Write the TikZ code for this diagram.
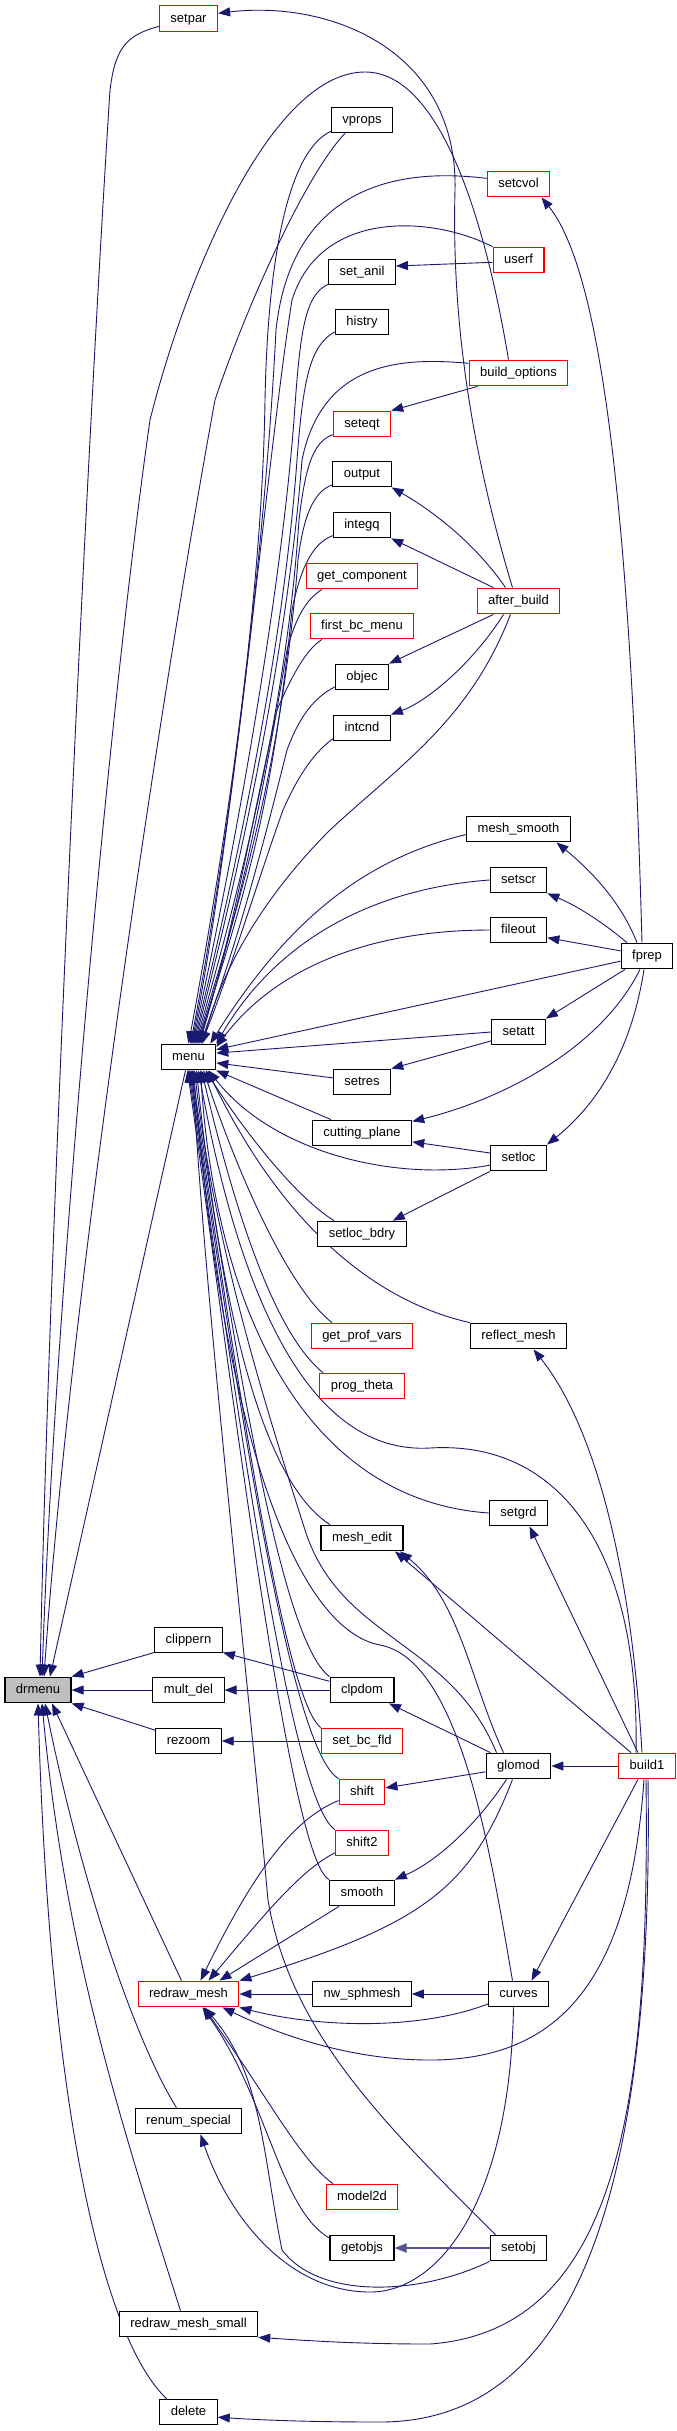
\documentclass[tikz,border=0pt]{standalone}
\usepackage{fontspec}
\usepackage{tikz}
\usetikzlibrary{arrows.meta,backgrounds,calc}
\newfontfamily\dgfont{Liberation Sans}
\definecolor{midnight}{HTML}{191970}
\definecolor{rootgrey}{HTML}{BFBFBF}
\tikzset{
  fn/.style={draw=black, fill=white, line width=1.1pt, inner xsep=11pt, inner ysep=0pt,
    minimum height=25.7pt, text height=9.6pt, text depth=2.6pt,
    font=\dgfont\fontsize{13}{15}\selectfont},
  fnred/.style={fn, draw=red},
  fnroot/.style={fn, fill=rootgrey},
  call/.style={draw=midnight, line width=0.9pt, -{Triangle[length=12pt,width=9pt]}},
}

\begin{document}
\begin{tikzpicture}[x=1pt,y=-1pt]
    \useasboundingbox (0,0) rectangle (677,2431);

    % 函数节点
    \node[fnred] (setpar) at (188.5,18.5) {setpar};
    \node[fn] (vprops) at (362,120) {vprops};
    \node[fnred] (setcvol) at (518.5,184) {setcvol};
    \node[fnred] (userf) at (518.5,260) {userf};
    \node[fn] (setanil) at (362,272) {set\_anil};
    \node[fn] (histry) at (362,322) {histry};
    \node[fnred] (buildoptions) at (518.5,373) {build\_options};
    \node[fnred] (seteqt) at (362,424) {seteqt};
    \node[fn] (output) at (362,474) {output};
    \node[fn] (integq) at (362,525) {integq};
    \node[fnred] (getcomponent) at (362,576) {get\_component};
    \node[fnred] (afterbuild) at (518.5,601) {after\_build};
    \node[fnred] (firstbcmenu) at (362,626) {first\_bc\_menu};
    \node[fn] (objec) at (362,677) {objec};
    \node[fn] (intcnd) at (362,728) {intcnd};
    \node[fn] (meshsmooth) at (518.5,829) {mesh\_smooth};
    \node[fn] (setscr) at (518.5,880) {setscr};
    \node[fn] (fileout) at (518.5,930) {fileout};
    \node[fn] (fprep) at (647,956) {fprep};
    \node[fn] (setatt) at (518.5,1032) {setatt};
    \node[fn] (menu) at (188.5,1057) {menu};
    \node[fn] (setres) at (362,1082) {setres};
    \node[fn] (cuttingplane) at (362,1133) {cutting\_plane};
    \node[fn] (setloc) at (518.5,1158) {setloc};
    \node[fn] (setlocbdry) at (362,1234) {setloc\_bdry};
    \node[fnred] (getprofvars) at (362,1336) {get\_prof\_vars};
    \node[fn] (reflectmesh) at (518.5,1336) {reflect\_mesh};
    \node[fnred] (progtheta) at (362,1386) {prog\_theta};
    \node[fn] (setgrd) at (518.5,1513) {setgrd};
    \node[fn] (meshedit) at (362,1538) {mesh\_edit};
    \node[fn] (clippern) at (188.5,1640) {clippern};
    \node[fnroot] (drmenu) at (38,1690) {drmenu};
    \node[fn] (multdel) at (188.5,1690) {mult\_del};
    \node[fn] (clpdom) at (362,1690) {clpdom};
    \node[fn] (rezoom) at (188.5,1741) {rezoom};
    \node[fnred] (setbcfld) at (362,1741) {set\_bc\_fld};
    \node[fn] (glomod) at (518.5,1766) {glomod};
    \node[fnred] (build1) at (647,1766) {build1};
    \node[fnred] (shift) at (362,1792) {shift};
    \node[fnred] (shift2) at (362,1843) {shift2};
    \node[fn] (smooth) at (362,1893) {smooth};
    \node[fnred] (redrawmesh) at (188.5,1994) {redraw\_mesh};
    \node[fn] (nwsphmesh) at (362,1994) {nw\_sphmesh};
    \node[fn] (curves) at (518.5,1994) {curves};
    \node[fn] (renumspecial) at (188.5,2121) {renum\_special};
    \node[fnred] (model2d) at (362,2197) {model2d};
    \node[fn] (getobjs) at (362,2248) {getobjs};
    \node[fn] (setobj) at (518.5,2248) {setobj};
    \node[fn] (redrawsmall) at (188.5,2324) {redraw\_mesh\_small};
    \node[fn] (delete) at (188.5,2412) {delete};

    \begin{scope}[on background layer]
    \fill[white] (0,0) rectangle (677,2431);

    % 调用 drmenu
    \draw[call] (setpar.195) .. controls (125,35) and (115,50) .. (110,90) .. controls (90,400) and (50,1200) .. ([xshift=2pt]drmenu.north);
    \draw[call] ([xshift=-10pt]buildoptions.north) .. controls (492,260) and (450,72) .. (365,72) .. controls (270,72) and (185,280) .. (150,420) .. controls (110,700) and (55,1300) .. ([xshift=4pt]drmenu.north);
    \draw[call] ([xshift=-17pt]vprops.south) .. controls (305,175) and (245,310) .. (215,400) .. controls (160,700) and (70,1300) .. ([xshift=6pt]drmenu.north);
    \draw[call] ([xshift=-3pt]menu.south) -- ([xshift=12pt]drmenu.north);
    \draw[call] (clippern.200) -- (drmenu.north east);
    \draw[call] (multdel.west) -- (drmenu.east);
    \draw[call] (rezoom.162) -- (drmenu.south east);
    \draw[call] ([xshift=-7pt]redrawmesh.north) -- ([xshift=14pt]drmenu.south);
    \draw[call] ([xshift=-12pt]renumspecial.north) .. controls (140,2050) and (85,1900) .. ([xshift=7pt]drmenu.south);
    \draw[call] ([xshift=-8pt]redrawsmall.north) .. controls (120,2120) and (65,1950) .. ([xshift=4pt]drmenu.south);
    \draw[call] ([xshift=-22pt]delete.north) .. controls (105,2340) and (50,2120) .. (drmenu.south);

    % after_build
    \draw[call] ([xshift=-6pt]afterbuild.north) .. controls (465,430) and (452,300) .. (455,190) .. controls (458,50) and (330,0) .. (setpar.10);
    \draw[call] ([xshift=-13pt]afterbuild.north) .. controls (480,550) and (440,515) .. (output.south east);
    \draw[call] ([xshift=-25pt]afterbuild.north) -- (integq.south east);
    \draw[call] ([xshift=-25pt]afterbuild.south) -- (objec.north east);
    \draw[call] ([xshift=-15pt]afterbuild.south) .. controls (475,660) and (430,700) .. (intcnd.north east);
    \draw[call] ([xshift=-8pt]afterbuild.south) .. controls (470,720) and (400,765) .. (330,830) .. controls (270,890) and (225,960) .. ([xshift=14pt]menu.north);

    % 从上方调用 menu
    \draw[call] (vprops.200) .. controls (290,150) and (268,250) .. (265,400) .. controls (262,600) and (225,850) .. (menu.north);
    \draw[call] (setcvol.170) .. controls (380,165) and (290,200) .. (276,330) .. controls (265,550) and (228,850) .. ([xshift=2pt]menu.north);
    \draw[call] (userf.north west) .. controls (430,215) and (320,210) .. (292,300) .. controls (268,450) and (232,850) .. ([xshift=3pt]menu.north);
    \draw[call] (userf.185) -- (setanil.10);
    \draw[call] (setanil.200) .. controls (305,295) and (300,330) .. (294,420) .. controls (280,600) and (235,850) .. ([xshift=4pt]menu.north);
    \draw[call] (histry.200) .. controls (310,345) and (303,380) .. (297,460) .. controls (283,650) and (238,860) .. ([xshift=5pt]menu.north);
    \draw[call] (buildoptions.169) .. controls (400,357) and (322,362) .. (302,460) .. controls (287,650) and (242,860) .. ([xshift=6pt]menu.north);
    \draw[call] ([xshift=-41pt]buildoptions.south) -- (seteqt.north east);
    \draw[call] (seteqt.200) .. controls (312,442) and (305,470) .. (299,520) .. controls (287,700) and (245,870) .. ([xshift=7pt]menu.north);
    \draw[call] (output.200) .. controls (312,492) and (303,520) .. (298,560) .. controls (283,750) and (247,880) .. ([xshift=8pt]menu.north);
    \draw[call] (integq.200) .. controls (312,543) and (300,570) .. (292,610) .. controls (273,800) and (247,890) .. ([xshift=9pt]menu.north);
    \draw[call] ([xshift=-40pt]getcomponent.south) .. controls (305,600) and (295,620) .. (287,650) .. controls (262,800) and (242,900) .. ([xshift=10pt]menu.north);
    \draw[call] ([xshift=-40pt]firstbcmenu.south) .. controls (305,650) and (290,680) .. (277,710) .. controls (252,820) and (236,920) .. ([xshift=11pt]menu.north);
    \draw[call] (objec.200) .. controls (315,697) and (300,715) .. (287,750) .. controls (262,850) and (238,940) .. ([xshift=12pt]menu.north);
    \draw[call] (intcnd.200) .. controls (315,752) and (300,772) .. (283,810) .. controls (258,880) and (234,960) .. ([xshift=13pt]menu.north);
    \draw[call] (meshsmooth.186) .. controls (360,860) and (285,925) .. ([xshift=-6pt]menu.north east);
    \draw[call] (setscr.west) .. controls (380,888) and (280,935) .. (menu.north east);
    \draw[call] (fileout.west) .. controls (380,930) and (280,962) .. (menu.20);

    % 从右侧调用 menu
    \draw[call] (fprep.191) -- (menu.15);
    \draw[call] (setatt.west) -- (menu.8);
    \draw[call] (setatt.198) -- (setres.north east);
    \draw[call] (setres.172) -- (menu.348);
    \draw[call] ([xshift=-31pt]cuttingplane.north) -- (menu.south east);
    \draw[call] (setloc.194) .. controls (400,1182) and (275,1155) .. ([xshift=20pt]menu.south);
    \draw[call] (setloc.170) -- (cuttingplane.350);
    \draw[call] (setloc.south west) -- ([xshift=-14pt]setlocbdry.north east);
    \draw[call] ([xshift=-28pt]setlocbdry.north) .. controls (300,1200) and (250,1140) .. ([xshift=17pt]menu.south);

    % fprep
    \draw[call] ([xshift=-5pt]fprep.north) .. controls (630,500) and (600,270) .. ([xshift=23pt]setcvol.south);
    \draw[call] ([xshift=-10pt]fprep.north) .. controls (620,900) and (590,870) .. ([xshift=38pt]meshsmooth.south);
    \draw[call] ([xshift=-20pt]fprep.north) .. controls (600,920) and (575,905) .. (setscr.south east);
    \draw[call] (fprep.169) -- (fileout.345);
    \draw[call] ([xshift=-22pt]fprep.south) -- (setatt.north east);
    \draw[call] ([xshift=-7pt]fprep.south) .. controls (600,1050) and (500,1100) .. (cuttingplane.13);
    \draw[call] ([xshift=-3pt]fprep.south) .. controls (630,1060) and (590,1110) .. (setloc.north east);

    % 从下方调用 menu
    \draw[call] ([xshift=-30pt]getprofvars.north) .. controls (290,1290) and (240,1180) .. ([xshift=15pt]menu.south);
    \draw[call] ([xshift=-39pt]progtheta.north) .. controls (270,1330) and (230,1190) .. ([xshift=13pt]menu.south);
    \draw[call] (reflectmesh.north west) .. controls (370,1300) and (280,1220) .. ([xshift=19pt]menu.south);
    \draw[call] (setgrd.west) .. controls (300,1500) and (215,1300) .. ([xshift=12pt]menu.south);
    \draw[call] ([xshift=-11pt]build1.north) .. controls (640,1550) and (560,1440) .. (430,1448) .. controls (310,1455) and (240,1300) .. ([xshift=10pt]menu.south);
    \draw[call] ([xshift=-32pt]meshedit.north) .. controls (260,1480) and (220,1300) .. ([xshift=8pt]menu.south);
    \draw[call] ([xshift=-22pt]glomod.north) .. controls (450,1640) and (340,1640) .. (305,1530) .. controls (270,1420) and (215,1250) .. ([xshift=6pt]menu.south);
    \draw[call] ([xshift=-6pt]curves.north) .. controls (490,1850) and (460,1660) .. (380,1645) .. controls (300,1630) and (225,1450) .. ([xshift=5pt]menu.south);
    \draw[call] ([xshift=-23pt]setobj.north) .. controls (380,2120) and (290,2030) .. (268,1900) .. controls (245,1650) and (205,1300) .. ([xshift=4pt]menu.south);
    \draw[call] (clpdom.north west) .. controls (280,1640) and (235,1350) .. ([xshift=3pt]menu.south);
    \draw[call] (setbcfld.north west) .. controls (285,1700) and (240,1400) .. ([xshift=2pt]menu.south);
    \draw[call] (shift.north west) .. controls (290,1750) and (238,1400) .. ([xshift=1pt]menu.south);
    \draw[call] (shift2.north west) .. controls (290,1800) and (236,1400) .. (menu.south);
    \draw[call] (smooth.north west) .. controls (290,1860) and (234,1400) .. ([xshift=-1pt]menu.south);

    % build1 与 glomod
    \draw[call] ([xshift=-5pt]build1.north) .. controls (630,1550) and (590,1420) .. ([xshift=15pt]reflectmesh.south);
    \draw[call] ([xshift=-9pt]build1.north) -- ([xshift=11pt]setgrd.south);
    \draw[call] ([xshift=-16pt]build1.north) -- ([xshift=33pt]meshedit.south);
    \draw[call] ([xshift=-15pt]glomod.north) .. controls (470,1680) and (460,1600) .. ([xshift=38pt]meshedit.south);
    \draw[call] (clpdom.165) -- (clippern.340);
    \draw[call] (clpdom.west) -- (multdel.east);
    \draw[call] ([xshift=-28pt]glomod.north) -- ([xshift=27pt]clpdom.south);
    \draw[call] (setbcfld.west) -- (rezoom.east);
    \draw[call] (glomod.190) -- (shift.10);
    \draw[call] ([xshift=-12pt]glomod.south) .. controls (480,1820) and (440,1860) .. (smooth.north east);
    \draw[call] ([xshift=-6pt]glomod.south) .. controls (470,1890) and (420,1925) .. (redrawmesh.north east);
    \draw[call] (build1.west) -- (glomod.east);
    \draw[call] ([xshift=-9pt]build1.south) -- ([xshift=13pt]curves.north);
    \draw[call] ([xshift=-3pt]build1.south) .. controls (630,1980) and (560,2060) .. (430,2060) .. controls (350,2060) and (280,2035) .. ([xshift=34pt]redrawmesh.south);
    \draw[call] ([xshift=-1pt]build1.south) .. controls (650,2100) and (620,2330) .. (430,2344) .. controls (350,2344) and (300,2340) .. (redrawsmall.south east);
    \draw[call] ([xshift=1pt]build1.south) .. controls (655,2250) and (550,2422) .. (380,2422) .. controls (310,2422) and (260,2420) .. (delete.350);

    % redraw_mesh
    \draw[call] (shift.200) .. controls (290,1820) and (250,1880) .. ([xshift=12pt]redrawmesh.north);
    \draw[call] (shift2.200) .. controls (300,1870) and (260,1920) .. ([xshift=20pt]redrawmesh.north);
    \draw[call] ([xshift=-23pt]smooth.south) -- ([xshift=31pt]redrawmesh.north);
    \draw[call] (nwsphmesh.west) -- (redrawmesh.east);
    \draw[call] (curves.west) -- (nwsphmesh.east);
    \draw[call] (curves.198) .. controls (420,2030) and (320,2028) .. (redrawmesh.south east);
    \draw[call] ([xshift=-5pt]curves.south) .. controls (510,2200) and (440,2292) .. (370,2292) .. controls (290,2292) and (230,2220) .. ([xshift=12pt]renumspecial.south);
    \draw[call] (setobj.south west) .. controls (420,2295) and (320,2300) .. (282,2250) .. controls (262,2150) and (262,2075) .. ([xshift=16pt]redrawmesh.south);
    \draw[call] ([xshift=-29pt]model2d.north) .. controls (300,2160) and (270,2100) .. ([xshift=15pt]redrawmesh.south);
    \draw[call] (getobjs.163) .. controls (280,2210) and (268,2100) .. ([xshift=14pt]redrawmesh.south);
    \draw[call, line width=2pt, draw=midnight!75] (setobj.west) -- (getobjs.east);
    \end{scope}
\end{tikzpicture}
\end{document}
